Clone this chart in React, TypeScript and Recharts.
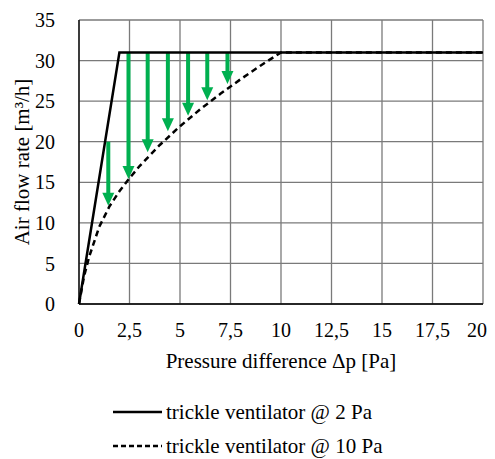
import { LineChart, Line, XAxis, YAxis, CartesianGrid, ReferenceLine, Legend } from 'recharts'

const X_TICKS = [0, 2.5, 5, 7.5, 10, 12.5, 15, 17.5, 20]
const Y_TICKS = [0, 5, 10, 15, 20, 25, 30, 35]

// trickle ventilator designed for 2 Pa
const solidX = [0, 2, 20]
const solidY = [0, 31, 31]

// trickle ventilator designed for 10 Pa
const dashedX = [0, 0.25, 0.5, 1, 1.5, 2, 2.5, 3, 4, 5, 6, 7, 8, 9, 10, 20]
const dashedY = [0, 3.4, 5.8, 9.5, 12, 13.9, 15.5, 17, 19.6, 21.9, 24, 25.9, 27.7, 29.4, 31, 31]

// green arrows: x position, start value, tip value
const arrowX = [1.45, 2.45, 3.4, 4.4, 5.4, 6.35, 7.35]
const arrowFrom = [20, 31, 31, 31, 31, 31, 31]
const arrowTo = [12.1, 15.4, 18.7, 21.3, 23.2, 25.1, 27.1]

const solidData = solidX.map((x, i) => ({ x, y: solidY[i] }))
const dashedData = dashedX.map((x, i) => ({ x, y: dashedY[i] }))

const FONT = '"Liberation Serif", "Times New Roman", Tinos'
const GREEN = '#00b050'

// eslint-disable-next-line @typescript-eslint/no-explicit-any
function Arrow(props: any) {
  const { x1, y1, x2, y2 } = props
  const head = 13
  const half = 6
  return (
    <g>
      <line x1={x1} y1={y1} x2={x2} y2={y2 - head + 1} stroke={GREEN} strokeWidth={4} />
      <polygon points={`${x2 - half},${y2 - head} ${x2 + half},${y2 - head} ${x2},${y2}`} fill={GREEN} />
    </g>
  )
}

function LegendBox() {
  const row = (dash: string | undefined, label: string) => (
    <div style={{ display: 'flex', alignItems: 'center', height: 34 }}>
      <svg width={50} height={10}>
        <line x1={0} y1={5} x2={49} y2={5} stroke="#000" strokeWidth={2.5} strokeDasharray={dash} />
      </svg>
      <span style={{ fontFamily: FONT, fontSize: 21, color: '#000', marginLeft: 3 }}>{label}</span>
    </div>
  )
  return (
    <div style={{ marginLeft: 105 }}>
      {row(undefined, 'trickle ventilator @ 2 Pa')}
      {row('5 3', 'trickle ventilator @ 10 Pa')}
    </div>
  )
}

export default function App() {
  const tick = { fontSize: 20, fill: '#000', fontFamily: FONT }
  return (
    <div style={{ fontFamily: FONT, width: 479, height: 451 }}>
      <LineChart width={479} height={451} margin={{ top: 12, right: 4, left: 0, bottom: 0 }}>
        <CartesianGrid stroke="#7a7a7a" strokeWidth={1.3} />
        <XAxis
          type="number"
          dataKey="x"
          domain={[0, 20]}
          ticks={X_TICKS}
          tick={tick}
          tickLine={false}
          axisLine={{ stroke: '#000', strokeWidth: 1.3 }}
          tickFormatter={(v) => String(v).replace('.', ',')}
          tickMargin={13}
          height={87}
          label={{ value: 'Pressure difference Δp [Pa]', position: 'insideTop', offset: 49, style: { ...tick, fontSize: 21 } }}
        />
        <YAxis
          type="number"
          domain={[0, 35]}
          ticks={Y_TICKS}
          tick={tick}
          tickLine={false}
          axisLine={{ stroke: '#000', strokeWidth: 1.3 }}
          tickMargin={18}
          width={71}
          label={{ value: 'Air flow rate [m³/h]', angle: -90, position: 'insideLeft', offset: 0, dx: 14, style: { ...tick, fontSize: 21, textAnchor: 'middle' } }}
        />
        {arrowX.map((x, i) => (
          <ReferenceLine
            key={i}
            segment={[{ x, y: arrowFrom[i] }, { x, y: arrowTo[i] }]}
            shape={Arrow}
          />
        ))}
        <Line data={solidData} dataKey="y" stroke="#000" strokeWidth={2.5} dot={false} isAnimationActive={false} legendType="none" />
        <Line data={dashedData} dataKey="y" type="linear" stroke="#000" strokeWidth={2.5} strokeDasharray="6 4" dot={false} isAnimationActive={false} legendType="none" />
        <Legend content={<LegendBox />} verticalAlign="bottom" wrapperStyle={{ bottom: -4 }} />
      </LineChart>
    </div>
  )
}
